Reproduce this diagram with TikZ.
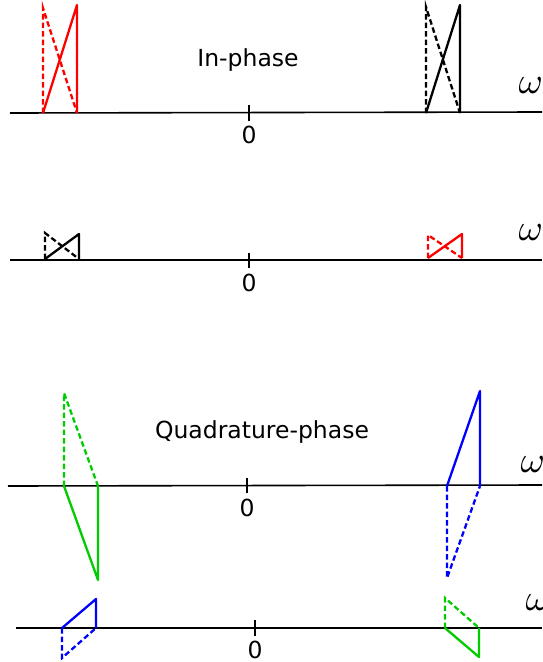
\documentclass[tikz,border=0pt]{standalone}
\usepackage{fontspec}
\setmainfont{DejaVu Sans}
\definecolor{sred}{RGB}{255,0,0}
\definecolor{sgreen}{RGB}{0,204,0}
\definecolor{sblue}{RGB}{0,0,255}
\begin{document}
\begin{tikzpicture}[x=1pt,y=-1pt,
  axisline/.style={line width=1.6pt,black},
  tickline/.style={line width=2.2pt,black},
  spec/.style={line width=2.3pt,line join=round},
  specdash/.style={line width=2.3pt,dash pattern=on 5.5pt off 3pt},
  lbl/.style={font=\fontsize{23.5}{28}\selectfont,inner sep=0pt},
  omg/.style={font=\normalsize,scale=3.7,inner sep=0pt,anchor=west}]
\useasboundingbox (0,0) rectangle (542,662);
\clip (0,0) rectangle (542,662);
% ---------- panel 1: In-phase ----------
\draw[axisline] (10,113) -- (542,112);
\draw[tickline] (249,105) -- (249,121);
\node[lbl] (z1) at (249,135) {0};
\node[lbl] (t1) at (248,60) {In-phase};
\node[omg] (w1) at (518,86) {$\omega$};
\draw[specdash,sred] (43,113) -- (43,8) -- (77,113);
\draw[spec,sred] (43,113) -- (77,5) -- (77,113);
\draw[specdash,black] (426,113) -- (426,7) -- (460,113);
\draw[spec,black] (426,113) -- (460,5) -- (460,113);
% ---------- panel 2 ----------
\draw[axisline] (10,260) -- (542,260);
\draw[tickline] (249,253) -- (249,268);
\node[lbl] (z2) at (249,283) {0};
\node[omg] (w2) at (518,233) {$\omega$};
\draw[specdash,black] (45,259) -- (45,233) -- (79,259);
\draw[spec,black] (45,259) -- (79,234) -- (79,259);
\draw[specdash,sred] (428,258) -- (428,235) -- (462,258);
\draw[spec,sred] (428,258) -- (462,234) -- (462,258);
% ---------- panel 3: Quadrature-phase ----------
\draw[axisline] (8,486) -- (542,485);
\draw[tickline] (247,478) -- (247,493);
\node[lbl] (z3) at (247,508) {0};
\node[lbl] (t3) at (262,432) {Quadrature-phase};
\node[omg] (w3) at (520,465) {$\omega$};
\draw[specdash,sgreen] (64,486) -- (64,393) -- (98,486);
\draw[spec,sgreen] (64,486) -- (98,580) -- (98,486);
\draw[spec,sblue] (447,486) -- (480,391) -- (480,486);
\draw[specdash,sblue] (447,486) -- (447,578) -- (480,486);
% ---------- panel 4 ----------
\draw[axisline] (16,628) -- (542,628);
\draw[tickline] (255,620) -- (255,636);
\node[lbl] (z4) at (255,650) {0};
\node[omg] (w4) at (525,603) {$\omega$};
\draw[spec,sblue] (62,628) -- (96,599) -- (96,628);
\draw[specdash,sblue] (62,628) -- (62,658) -- (96,628);
\draw[specdash,sgreen] (445,628) -- (445,598) -- (479,628);
\draw[spec,sgreen] (445,628) -- (479,657) -- (479,628);
\end{tikzpicture}
\end{document}
